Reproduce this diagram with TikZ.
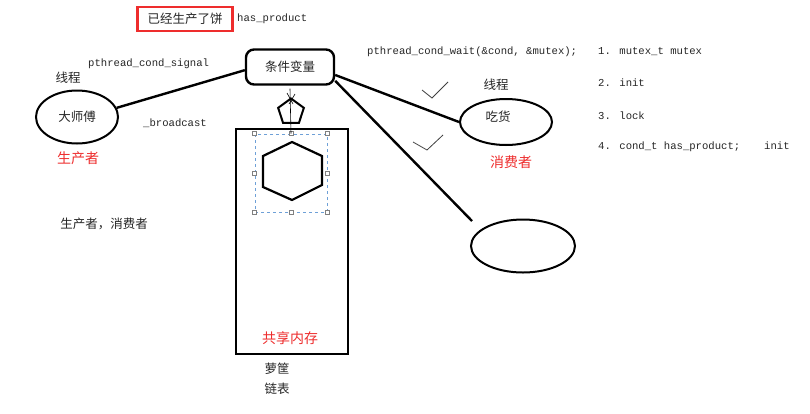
\documentclass[tikz,border=0pt]{standalone}
\usepackage{fontspec}
\setmainfont{Liberation Serif}
\newfontfamily\cjk{Noto Sans CJK SC}
\newfontfamily\monof{Liberation Mono}
\usetikzlibrary{shapes.geometric}
\definecolor{myred}{RGB}{238,45,45}
\definecolor{selblue}{RGB}{110,160,215}
\begin{document}
\begin{tikzpicture}[x=1pt,y=-1pt,
  cn/.style={font=\cjk\fontsize{12.5}{14}\selectfont, inner sep=0pt, text=black!85},
  rd/.style={font=\cjk\fontsize{14}{16}\selectfont, inner sep=0pt, text=myred},
  code/.style={font=\monof\fontsize{10.6}{12}\selectfont, inner sep=0pt, anchor=west, text=black!85},
  thick line/.style={line width=2.4pt},
  handle/.style={draw=gray, fill=white, line width=0.5pt, minimum size=4pt, inner sep=0pt},
  checkmark/.style={line width=0.8pt, draw=black!75}]
\fill[white] (0,0) rectangle (810,413);
\useasboundingbox (0,0) rectangle (810,413);

% top flag
\node[draw=myred, line width=2.4pt, minimum width=95pt, minimum height=24pt, cn] (flag) at (185,19) {已经生产了饼};
\node[code] (hp) at (237,19) {has\_product};

% condition variable
\node[draw, thick line, rounded corners=8pt, minimum width=88pt, minimum height=35pt, cn] (cv) at (290,67) {条件变量};

% producer
\node[code] (sig) at (88,64) {pthread\_cond\_signal};
\node[cn] (thr1) at (68,78) {线程};
\node[ellipse, draw, line width=2pt, minimum width=82pt, minimum height=53pt, inner sep=0pt] (m) at (77,117) {};
\node[cn] (mt) at (77,117) {大师傅};
\node[code] (bc) at (143,123) {\_broadcast};
\node[rd] (prod) at (78,158) {生产者};
\node[cn] (pc) at (104,224) {生产者，消费者};
\draw[thick line] (m.13) -- (cv.184);

% shared memory
\node[draw, line width=2.6pt, minimum width=112pt, minimum height=225pt, inner sep=0pt] (mem) at (292,241.5) {};
\node[rd] (shm) at (290,338) {共享内存};
\node[cn] (lk) at (277,369) {萝筐};
\node[cn] (ll) at (277,389) {链表};

% selection box with hexagon
\node[draw=selblue, dashed, line width=0.7pt, minimum width=72pt, minimum height=78pt, inner sep=0pt] (sel) at (291,173) {};
\foreach \a in {north west,north,north east,east,south east,south,south west,west}
  \node[handle] at (sel.\a) {};
\draw[line width=2.2pt, line join=miter] (292,142) -- (322,156) -- (322,185) -- (292,200) -- (263,187) -- (263,156) -- cycle;

% pentagon and thin connector
\draw[line width=0.6pt] (cv.south) ++(0,3) -- (sel.north);
\node[regular polygon, regular polygon sides=5, draw, line width=2pt, minimum size=27pt, inner sep=0pt] (pent) at (291,112) {};
\draw[line width=0.6pt] (287,93) -- (293,104);
\draw[line width=0.6pt] (295,94) -- (289,104);

% consumer
\node[code] (wait) at (367,52) {pthread\_cond\_wait(\&cond, \&mutex);};
\node[cn] (thr2) at (496,85) {线程};
\node[ellipse, draw, line width=2pt, minimum width=92pt, minimum height=46pt, inner sep=0pt] (c) at (506,122) {};
\node[cn] (ct) at (498,117) {吃货};
\node[rd] (cons) at (511,162) {消费者};
\draw[thick line] (cv.-10) -- (c.west);

\node[ellipse, draw, line width=2pt, minimum width=104pt, minimum height=53pt, inner sep=0pt] (e) at (523,246) {};
\coordinate (w) at (472,221);
\draw[thick line] (cv.-17) -- (w);

% check marks
\draw[checkmark] (422,90) -- (432,98) -- (448,82);
\draw[checkmark] (413,142) -- (427,150) -- (443,135);

% list
\node[code] (l1) at (598,52) {1. mutex\_t mutex};
\node[code] (l2) at (598,83) {2. init};
\node[code] (l3) at (598,116) {3. lock};
\node[code] (l4) at (598,147) {4. cond\_t has\_product;\hspace{24pt}init};
\end{tikzpicture}
\end{document}
